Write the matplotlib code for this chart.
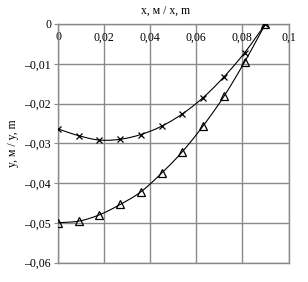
import numpy as np
import matplotlib
matplotlib.use("Agg")
import matplotlib.pyplot as plt
from matplotlib.ticker import FuncFormatter

x_vals = [0.0, 0.009, 0.018, 0.027, 0.036, 0.045, 0.054, 0.063, 0.072, 0.081, 0.09]
y_cross = [-0.0264, -0.0281, -0.0292, -0.0290, -0.0278, -0.0257, -0.0226, -0.0185, -0.0133, -0.0072, 0.0]
y_tri = [-0.0500, -0.0496, -0.0480, -0.0454, -0.0422, -0.0375, -0.0321, -0.0256, -0.0182, -0.0095, 0.0]
x_ticks = [0, 0.02, 0.04, 0.06, 0.08, 0.1]
y_ticks = [0, -0.01, -0.02, -0.03, -0.04, -0.05, -0.06]
x_label = "x, м / x, m"
y_label = "y, м / y, m"

plt.rcParams['font.family'] = ['Liberation Serif', 'DejaVu Serif']


def smooth(xs, ys, n=20):
    xs = np.asarray(xs); ys = np.asarray(ys)
    m = np.gradient(ys, xs)
    px, py = [], []
    for i in range(len(xs) - 1):
        h = xs[i + 1] - xs[i]
        t = np.linspace(0, 1, n, endpoint=False)
        h00 = 2*t**3 - 3*t**2 + 1
        h10 = t**3 - 2*t**2 + t
        h01 = -2*t**3 + 3*t**2
        h11 = t**3 - t**2
        px.extend(xs[i] + t*h)
        py.extend(h00*ys[i] + h10*h*m[i] + h01*ys[i+1] + h11*h*m[i+1])
    px.append(xs[-1]); py.append(ys[-1])
    return px, py


fig = plt.figure(figsize=(3.08, 2.82), dpi=100)
ax = fig.add_axes([58/308, 1-262.5/282, (288.5-58)/308, (262.5-24)/282])

gc = '#8a8a8a'
for s in [y_cross, y_tri]:
    sx, sy = smooth(x_vals, s)
    ax.plot(sx, sy, color='black', lw=0.8, zorder=3)
ax.plot(x_vals, y_cross, ls='none', marker='x', ms=5, mew=0.9, color='black', zorder=4)
ax.plot(x_vals, y_tri, ls='none', marker='^', ms=5.5, mew=0.9, mfc='none', mec='black', zorder=4)

ax.set_xlim(0, 0.1)
ax.set_ylim(-0.06, 0)
ax.set_xticks(x_ticks)
ax.set_yticks(y_ticks)
fmt = lambda v, p: ('0' if abs(v) < 1e-12 else ('%g' % v).replace('.', ',').replace('-', '\u2013'))
ax.xaxis.set_major_formatter(FuncFormatter(fmt))
ax.yaxis.set_major_formatter(FuncFormatter(fmt))
ax.grid(True, color=gc, lw=1.0)
for sp in ax.spines.values():
    sp.set_color(gc)
    sp.set_linewidth(1.0)
ax.tick_params(axis='x', top=True, labeltop=True, bottom=False, labelbottom=False,
               direction='in', length=0, pad=-14, labelsize=8.5)
ax.tick_params(axis='y', direction='out', length=3, color=gc, labelsize=8.5, pad=2)

fig.text(166/308, 1-11/282, x_label, ha='center', va='center', fontsize=8.5)
fig.text(13/308, 1-143/282, y_label, ha='center', va='center', rotation=90, fontsize=8.5)

fig.savefig('out.png', dpi=100)
